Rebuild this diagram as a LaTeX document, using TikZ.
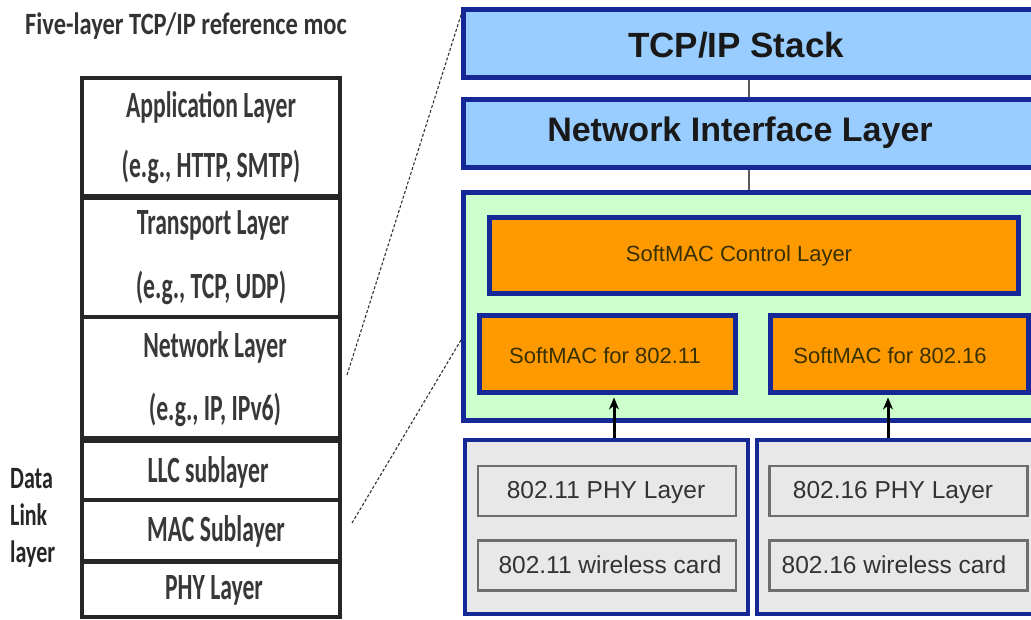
\documentclass[tikz,border=0pt]{standalone}
\usepackage{fontspec}
\setmainfont{Liberation Sans}
\newfontfamily\handfont[FakeStretch=0.64]{Carlito}
\newfontfamily\handmid[FakeStretch=0.71]{Carlito}
\newfontfamily\handwide[FakeStretch=0.79]{Carlito}
\usetikzlibrary{arrows.meta}

\definecolor{navy}{RGB}{22,40,150}
\definecolor{skyfill}{RGB}{153,204,255}
\definecolor{mintfill}{RGB}{204,255,204}
\definecolor{orangefill}{RGB}{255,153,0}
\definecolor{greyfill}{RGB}{232,232,232}
\definecolor{greyedge}{RGB}{110,110,110}
\definecolor{inkgrey}{RGB}{51,51,51}
\definecolor{olive}{RGB}{55,48,0}

\tikzset{
  bluebar/.style={draw=navy, line width=5pt, fill=skyfill, inner sep=0pt,
                  minimum width=577pt, minimum height=68pt},
  mintbox/.style={draw=navy, line width=5pt, fill=mintfill, inner sep=0pt},
  orangebox/.style={draw=navy, line width=5pt, fill=orangefill, inner sep=0pt,
                    minimum height=76pt},
  greybox/.style={draw=navy, line width=4pt, fill=greyfill, inner sep=0pt,
                  minimum width=283pt, minimum height=174pt},
  cellbox/.style={draw=greyedge, line width=2.5pt, fill=greyfill, inner sep=0pt,
                  minimum width=258pt, minimum height=50pt},
  bigtxt/.style={font=\fontsize{35}{40}\selectfont\bfseries, text=black!90, inner sep=0pt},
  softtxt/.style={font=\fontsize{22}{26}\selectfont, text=olive, inner sep=0pt},
  celltxt/.style={font=\fontsize{24.5}{28}\selectfont, text=inkgrey, inner sep=0pt},
  handtxt/.style={font=\handfont\bfseries\fontsize{37}{42}\selectfont, text=black!78, inner sep=0pt},
  sidetxt/.style={font=\handmid\bfseries\fontsize{31}{36}\selectfont, text=black!85,
                  anchor=base west, inner sep=0pt},
  stackline/.style={draw=black!85},
  zoomline/.style={draw=inkgrey, line width=1.1pt, dash pattern=on 3pt off 2pt},
  linkline/.style={draw=black!65, line width=2.5pt},
  uparrow/.style={draw=black, line width=3pt, -{Stealth[length=12pt,width=10pt]}}
}

\begin{document}
\begin{tikzpicture}[x=1pt,y=-1pt]
\useasboundingbox (0,0) rectangle (1031,620);

% ---------- five-layer reference model ----------
\node[font=\handwide\bfseries\fontsize{31}{36}\selectfont, text=black!80, anchor=west, inner sep=0pt]
  (title) at (25,26) {Five-layer TCP/IP reference moc};

\draw[stackline, line width=4pt] (82,78) rectangle (340,617);
\draw[stackline, line width=6pt] (82,197) -- (340,197);
\draw[stackline, line width=3.5pt] (82,317) -- (340,317);
\draw[stackline, line width=7pt] (82,439) -- (340,439);
\draw[stackline, line width=3.5pt] (82,500) -- (340,500);
\draw[stackline, line width=5pt] (82,561) -- (340,561);

\node[handtxt] (appA) at (211,107) {Application Layer};
\node[handtxt] (appB) at (211,167) {(e.g., HTTP, SMTP)};
\node[handtxt] (trnA) at (213,225) {Transport Layer};
\node[handtxt] (trnB) at (211,288) {(e.g., TCP, UDP)};
\node[handtxt] (netA) at (215,347) {Network Layer};
\node[handtxt] (netB) at (215,410) {(e.g., IP, IPv6)};
\node[handtxt] (llc)  at (208,472) {LLC sublayer};
\node[handtxt] (mac)  at (216,531) {MAC Sublayer};
\node[handtxt] (phy)  at (214,590) {PHY Layer};

\node[sidetxt] (dlA) at (10,488) {Data};
\node[sidetxt] (dlB) at (10,525) {Link};
\node[sidetxt] (dlC) at (10,562) {layer};

% ---------- SoftMAC architecture ----------
\node[bluebar] (tcp) at (751.5,44) {};
\node[bluebar] (nil) at (751.5,134) {};
\node[mintbox, minimum width=577pt, minimum height=227pt] (mint) at (751.5,306.5) {};
\node[orangebox, minimum width=529pt] (ctrl) at (753.5,256) {};
\node[orangebox, minimum width=256pt] (sm11) at (607,354) {};
\node[orangebox, minimum width=258pt] (sm16) at (899,354) {};

\node[greybox] (gl) at (606.5,527) {};
\node[greybox] (gr) at (898.5,527) {};
\node[cellbox] (phy11)  at (607,491) {};
\node[cellbox] (card11) at (607,565.5) {};
\node[cellbox] (phy16)  at (898.5,491) {};
\node[cellbox] (card16) at (898.5,565.5) {};

\node[bigtxt] (tcpT) at (736,45) {TCP/IP Stack};
\node[bigtxt, font=\fontsize{34}{40}\selectfont\bfseries] (nilT) at (740,133) {Network Interface Layer};
\node[softtxt] (ctrlT) at (739,256) {SoftMAC Control Layer};
\node[softtxt] (sm11T) at (605,356) {SoftMAC for 802.11};
\node[softtxt] (sm16T) at (890,356) {SoftMAC for 802.16};
\node[celltxt] (phy11T)  at (606,492) {802.11 PHY Layer};
\node[celltxt] (card11T) at (610,565) {802.11 wireless card};
\node[celltxt] (phy16T)  at (893,492) {802.16 PHY Layer};
\node[celltxt] (card16T) at (894,565) {802.16 wireless card};

% vertical links between the stack blocks
\draw[linkline] ([xshift=-2.5pt]tcp.south) -- ([xshift=-2.5pt]nil.north);
\draw[linkline] ([xshift=-2.5pt]nil.south) -- ([xshift=-2.5pt]mint.north);

% hardware blocks feeding the SoftMAC modules
\draw[uparrow] ([xshift=7.5pt]gl.north) -- ([xshift=7.5pt,yshift=-3pt]gl.north |- sm11.south);
\draw[uparrow] ([xshift=-10.5pt]gr.north) -- ([xshift=-10.5pt,yshift=-3pt]gr.north |- sm16.south);

% dashed zoom lines from the reference model to the detailed view
\coordinate (z1a) at (347,375);
\coordinate (z1b) at (462,12);
\coordinate (z2a) at (352,523);
\coordinate (z2b) at (461,340);
\draw[zoomline] (z1a) -- (z1b);
\draw[zoomline] (z2a) -- (z2b);
\end{tikzpicture}
\end{document}
